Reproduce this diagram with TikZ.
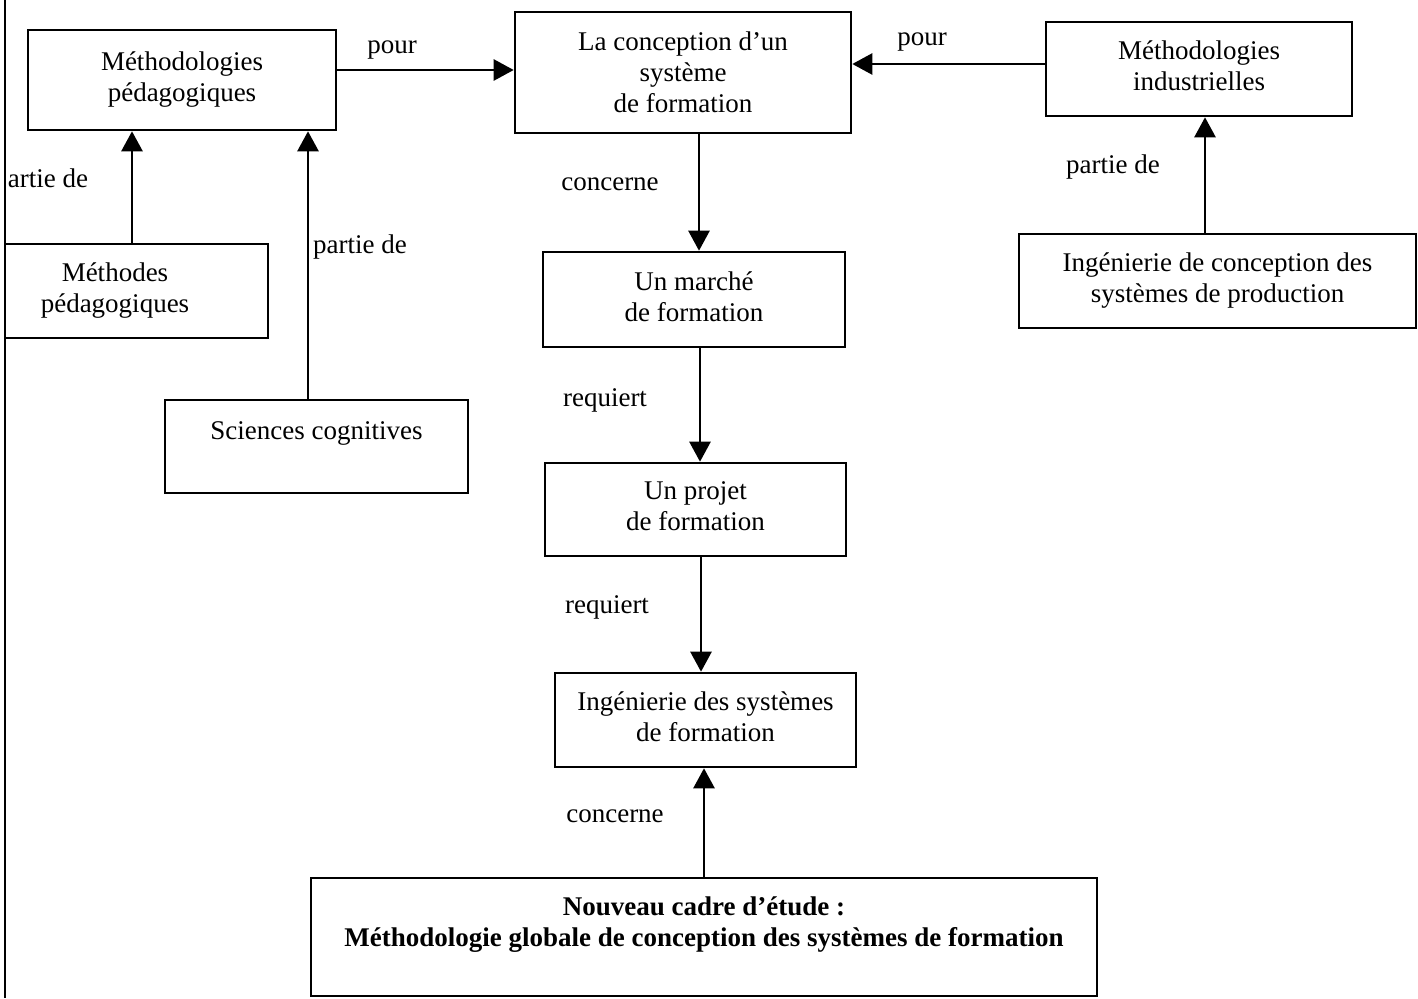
\documentclass[tikz,border=0pt]{standalone}
\usepackage{fontspec}
\setmainfont{Liberation Serif}
\usetikzlibrary{arrows.meta}
\tikzset{
  box/.style={draw, line width=2.6pt, inner sep=0pt, align=center, font=\fontsize{27}{31}\selectfont},
  lift/.style={text depth=6pt},
  lbl/.style={inner sep=0pt, anchor=base, font=\fontsize{27}{31}\selectfont},
  arr/.style={line width=2.6pt, -{Triangle[width=21pt,length=20pt]}},
}
\begin{document}
\begin{tikzpicture}[x=1pt,y=-1pt]
\useasboundingbox (0,0) rectangle (1418,998);
\clip (4,0) rectangle (1418,998);
\fill[white] (0,0) rectangle (1418,998);
\draw[line width=2.6pt] (5,0) -- (5,998);

\node[box, minimum width=308pt, minimum height=100pt] (mp) at (182,80) {Méthodologies\\pédagogiques};
\node[box, minimum width=336pt, minimum height=121pt] (concept) at (683,72.5) {La conception d’un\\système\\de formation};
\node[box, lift, minimum width=306pt, minimum height=94pt] (mi) at (1199,69) {Méthodologies\\industrielles};
\node[box, minimum width=306pt, minimum height=94pt] (methodes) at (115,291) {Méthodes\\pédagogiques};
\node[box, minimum width=303pt, minimum height=93pt] (sciences) at (316.5,446.5) {Sciences cognitives\\\mbox{}};
\node[box, lift, minimum width=302pt, minimum height=95pt] (marche) at (694,299.5) {Un marché\\de formation};
\node[box, lift, minimum width=301pt, minimum height=93pt] (projet) at (695.5,509.5) {Un projet\\de formation};
\node[box, lift, minimum width=301pt, minimum height=94pt] (isf) at (705.5,720) {Ingénierie des systèmes\\de formation};
\node[box, minimum width=397pt, minimum height=94pt] (ingcp) at (1217.5,281) {Ingénierie de conception des\\systèmes de production};
\node[box, minimum width=786pt, minimum height=118pt, font=\fontsize{27}{31}\selectfont\bfseries] (nouveau) at (704,937) {Nouveau cadre d’étude :\\Méthodologie globale de conception des systèmes de formation\\\mbox{}};

\draw[arr] ([yshift=10pt]mp.east) -- ([yshift=10pt]mp.east -| concept.west);
\draw[arr] ([yshift=5pt]mi.west) -- ([yshift=5pt]mi.west -| concept.east);
\draw[arr] ([xshift=16pt]concept.south) -- ([xshift=16pt]concept.south |- marche.north);
\draw[arr] ([xshift=6pt]marche.south) -- ([xshift=6pt]marche.south |- projet.north);
\draw[arr] ([xshift=5.5pt]projet.south) -- ([xshift=5.5pt]projet.south |- isf.north);
\draw[arr] (nouveau.north) -- (nouveau.north |- isf.south);
\draw[arr] ([xshift=17pt]methodes.north) -- ([xshift=17pt]methodes.north |- mp.south);
\draw[arr] ([xshift=-8.5pt]sciences.north) -- ([xshift=-8.5pt]sciences.north |- mp.south);
\draw[arr] ([xshift=-12.5pt]ingcp.north) -- ([xshift=-12.5pt]ingcp.north |- mi.south);

\node[lbl] (l1) at (392,53) {pour};
\node[lbl] (l2) at (922,46) {pour};
\node[lbl] (l3) at (610,190) {concerne};
\node[lbl] (l4) at (605,406) {requiert};
\node[lbl] (l5) at (607,613) {requiert};
\node[lbl] (l6) at (615,822) {concerne};
\node[lbl] (l7) at (48,187) {artie de};
\node[lbl] (l8) at (360,253) {partie de};
\node[lbl] (l9) at (1113,173) {partie de};
\end{tikzpicture}
\end{document}
